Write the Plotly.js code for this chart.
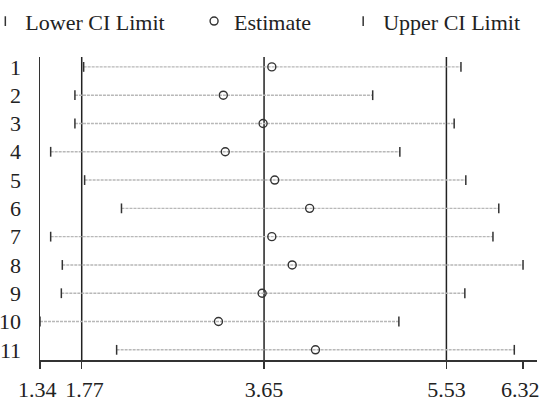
<!DOCTYPE html>
<html>
<head>
<meta charset="utf-8">
<script src="https://cdn.plot.ly/plotly-3.0.1.min.js"></script>
<style>html,body{margin:0;padding:0;background:#fff;}#chart{width:551px;height:401px;}</style>
</head>
<body>
<div id="chart"></div>
<script>
const studies = ['1','2','3','4','5','6','7','8','9','10','11'];
const lower = [1.79, 1.70, 1.70, 1.45, 1.80, 2.18, 1.45, 1.57, 1.56, 1.34, 2.13];
const estimate = [3.73, 3.23, 3.64, 3.25, 3.76, 4.12, 3.73, 3.94, 3.63, 3.18, 4.18];
const upper = [5.68, 4.77, 5.61, 5.05, 5.73, 6.07, 6.01, 6.32, 5.72, 5.04, 6.23];
const refLines = [1.77, 3.65, 5.53];
const xTicks = [1.34, 1.77, 3.65, 5.53, 6.32];
const xTickText = ['1.34\u00a0', '\u00a01.77', '3.65', '5.53', '6.32\u00a0'];

const FONT = 'Liberation Serif, Times New Roman, serif';
const DARK = '#333333';

// CI connecting lines
const ciX = [], ciY = [];
studies.forEach((s, i) => { ciX.push(lower[i], upper[i], null); ciY.push(s, s, null); });

const traces = [
  {
    x: ciX, y: ciY, type: 'scatter', mode: 'lines',
    line: {color: '#b8b8b8', width: 1.4, dash: '3px,1px'},
    showlegend: false, hoverinfo: 'skip'
  },
  {
    x: lower, y: studies, type: 'scatter', mode: 'markers', name: 'Lower CI Limit',
    marker: {symbol: 'line-ns', size: 7, line: {color: DARK, width: 1.5}},
    legend: 'legend'
  },
  {
    x: estimate, y: studies, type: 'scatter', mode: 'markers', name: 'Estimate',
    marker: {symbol: 'circle-open', size: 8, color: DARK, line: {color: DARK, width: 1.4}},
    legend: 'legend2'
  },
  {
    x: upper, y: studies, type: 'scatter', mode: 'markers', name: 'Upper CI Limit',
    marker: {symbol: 'line-ns', size: 7, line: {color: DARK, width: 1.5}},
    legend: 'legend3'
  }
];

const legendBase = {
  orientation: 'h', xref: 'paper', yref: 'container',
  yanchor: 'middle', xanchor: 'left', y: 0.947,
  font: {family: FONT, size: 22, color: '#222'},
  bgcolor: 'rgba(0,0,0,0)', borderwidth: 0, itemwidth: 30
};

const layout = {
  width: 551, height: 401,
  margin: {l: 40, r: 14, t: 57, b: 41, autoexpand: false},
  paper_bgcolor: '#fff', plot_bgcolor: '#fff',
  font: {family: FONT, size: 22, color: DARK},
  showlegend: true,
  legend: Object.assign({}, legendBase, {x: -0.11}),
  legend2: Object.assign({}, legendBase, {x: 0.31}),
  legend3: Object.assign({}, legendBase, {x: 0.61}),
  xaxis: {
    range: [1.34, 6.464], showgrid: false, zeroline: false,
    showline: true, linecolor: DARK, linewidth: 1.5,
    ticks: 'outside', ticklen: 7, tickwidth: 1.5, tickcolor: DARK,
    tickmode: 'array', tickvals: xTicks, ticktext: xTickText,
    tickangle: 0, ticklabelstandoff: 2,
    tickfont: {family: FONT, size: 22, color: '#222'}
  },
  yaxis: {
    type: 'category', range: [10.36, -0.35], autorange: false,
    showgrid: false, zeroline: false,
    showline: true, linecolor: DARK, linewidth: 1.5,
    ticks: '', ticklabelstandoff: 13,
    tickfont: {family: FONT, size: 22, color: '#222'}
  },
  shapes: refLines.map(v => ({
    type: 'line', xref: 'x', yref: 'paper', x0: v, x1: v, y0: 0, y1: 1,
    line: {color: '#222', width: 1.5}, layer: 'below'
  }))
};

Plotly.newPlot('chart', traces, layout, {staticPlot: true, displayModeBar: false});
</script>
</body>
</html>
